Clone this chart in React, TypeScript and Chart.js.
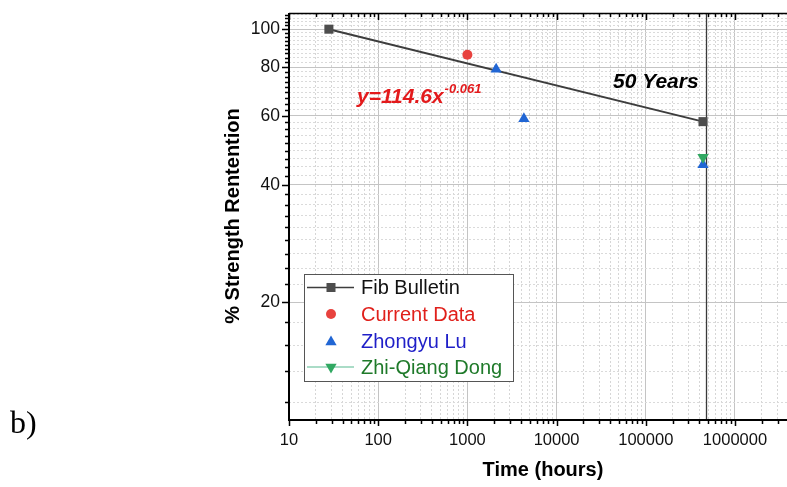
import React, { useEffect, useRef } from 'react';
import { Chart, registerables } from 'chart.js';

Chart.register(...registerables);

// ---- data ----
const FIB_X = [28, 438000];
const FIB_Y = [100, 58];
const CURRENT_X = [1000];
const CURRENT_Y = [86];
const LU_X = [2100, 4300, 438000];
const LU_Y = [79, 59, 45];
const DONG_X = [438000];
const DONG_Y = [47];

const SERIES_NAMES = ['Fib Bulletin', 'Current Data', 'Zhongyu Lu', 'Zhi-Qiang Dong'];

const X_MAJOR_TICKS = [10, 100, 1000, 10000, 100000, 1000000];
const X_TICK_LABELS = ['10', '100', '1000', '10000', '100000', '1000000'];
const Y_MAJOR_TICKS = [20, 40, 60, 80, 100];
const Y_TICK_LABELS = ['20', '40', '60', '80', '100'];
const X_RANGE = [10, 3830000];
const Y_RANGE = [10, 110];
const FIFTY_YEARS_LINE = [470000];

const X_TITLE = 'Time (hours)';
const Y_TITLE = '% Strength Rentention';
const EQUATION = ['y=114.6x', '-0.061'];
const ANNOTATION = '50 Years';

const SANS = "Arial, 'Liberation Sans', sans-serif";

function xTicks() {
  const out: { value: number; major: boolean }[] = [];
  for (let d = 1; d <= 6; d++) {
    for (let m = 1; m <= 9; m++) {
      const v = m * Math.pow(10, d);
      if (v >= X_RANGE[0] && v <= X_RANGE[1]) out.push({ value: v, major: m === 1 });
    }
  }
  return out;
}

function yTicks() {
  const out: { value: number; major: boolean }[] = [];
  for (let k = 1; k <= 50; k++) {
    const v = (k * 20) / 9;
    if (v >= Y_RANGE[0] && v <= Y_RANGE[1]) out.push({ value: v, major: k % 9 === 0 });
  }
  return out;
}

function pts(xs: number[], ys: number[]) {
  return xs.map((x, i) => ({ x, y: ys[i] }));
}

function triangle(ctx: CanvasRenderingContext2D, x: number, y: number, r: number, down: boolean) {
  const s = down ? -1 : 1;
  ctx.beginPath();
  ctx.moveTo(x, y - s * r);
  ctx.lineTo(x + r * 0.866, y + s * r / 2);
  ctx.lineTo(x - r * 0.866, y + s * r / 2);
  ctx.closePath();
  ctx.fill();
}

const decorPlugin = {
  id: 'decor',
  beforeDatasetsDraw(chart: any) {
    const { ctx, chartArea: ca } = chart;
    const xs = chart.scales.x;
    const px = Math.round(xs.getPixelForValue(FIFTY_YEARS_LINE[0])) + 0.5;
    ctx.save();
    ctx.strokeStyle = '#3a3a3a';
    ctx.lineWidth = 1.3;
    ctx.beginPath();
    ctx.moveTo(px, ca.top);
    ctx.lineTo(px, ca.bottom);
    ctx.stroke();
    ctx.restore();
  },
  afterDraw(chart: any) {
    const { ctx, chartArea: ca } = chart;
    const xs = chart.scales.x;
    const ys = chart.scales.y;
    ctx.save();

    // frame
    ctx.strokeStyle = '#000';
    ctx.lineWidth = 1.5;
    ctx.beginPath();
    ctx.moveTo(ca.left, ca.top + 0.5);
    ctx.lineTo(ca.right, ca.top + 0.5);
    ctx.stroke();
    ctx.lineWidth = 2;
    ctx.beginPath();
    ctx.moveTo(ca.left, ca.top);
    ctx.lineTo(ca.left, ca.bottom);
    ctx.lineTo(ca.right, ca.bottom);
    ctx.stroke();

    // ticks
    ctx.lineWidth = 1.5;
    ctx.beginPath();
    xs.ticks.forEach((t: any) => {
      const p = Math.round(xs.getPixelForValue(t.value)) + 0.5;
      ctx.moveTo(p, ca.bottom);
      ctx.lineTo(p, ca.bottom + (t.major ? 6 : 4));
      ctx.moveTo(p, ca.top);
      ctx.lineTo(p, ca.top + (t.major ? 7 : 4));
    });
    ys.ticks.forEach((t: any) => {
      const p = Math.round(ys.getPixelForValue(t.value)) + 0.5;
      ctx.moveTo(ca.left, p);
      ctx.lineTo(ca.left - (t.major ? 7 : 4), p);
    });
    ctx.stroke();

    // axis titles
    ctx.fillStyle = '#000';
    ctx.font = `bold 20px ${SANS}`;
    ctx.textAlign = 'center';
    ctx.textBaseline = 'middle';
    ctx.fillText(X_TITLE, 543, 470);
    ctx.save();
    ctx.translate(233, 216);
    ctx.rotate(-Math.PI / 2);
    ctx.fillText(Y_TITLE, 0, 0);
    ctx.restore();

    // equation
    ctx.textAlign = 'left';
    ctx.textBaseline = 'alphabetic';
    ctx.fillStyle = '#e31a1c';
    ctx.font = `italic bold 21px ${SANS}`;
    ctx.fillText(EQUATION[0], 357, 103);
    const w = ctx.measureText(EQUATION[0]).width;
    ctx.font = `italic bold 13px ${SANS}`;
    ctx.fillText(EQUATION[1], 357 + w + 1, 93);

    // annotation
    ctx.fillStyle = '#000';
    ctx.font = `italic bold 21px ${SANS}`;
    ctx.fillText(ANNOTATION, 613, 88);

    // legend
    const bx = 304.5, by = 274.5, bw = 209, bh = 107;
    ctx.fillStyle = '#fff';
    ctx.fillRect(bx, by, bw, bh);
    ctx.strokeStyle = '#555';
    ctx.lineWidth = 1;
    ctx.strokeRect(bx, by, bw, bh);
    const rows = [287.5, 314, 341, 367];
    const textColors = ['#111', '#e0201b', '#1f1fc8', '#1f7a2a'];
    const mx = 331;
    ctx.strokeStyle = '#3d3d3d';
    ctx.lineWidth = 1.6;
    ctx.beginPath();
    ctx.moveTo(307, rows[0]);
    ctx.lineTo(354, rows[0]);
    ctx.stroke();
    ctx.fillStyle = '#4d4d4d';
    ctx.fillRect(mx - 4.5, rows[0] - 4.5, 9, 9);
    ctx.fillStyle = '#e8423e';
    ctx.beginPath();
    ctx.arc(mx, rows[1], 5, 0, Math.PI * 2);
    ctx.fill();
    ctx.fillStyle = '#2166d4';
    triangle(ctx, mx, rows[2] + 1, 6.5, false);
    ctx.strokeStyle = '#8ed1b4';
    ctx.lineWidth = 1.4;
    ctx.beginPath();
    ctx.moveTo(307, rows[3]);
    ctx.lineTo(354, rows[3]);
    ctx.stroke();
    ctx.fillStyle = '#31a862';
    triangle(ctx, mx, rows[3], 6.5, true);

    ctx.font = `20px ${SANS}`;
    ctx.textBaseline = 'middle';
    SERIES_NAMES.forEach((n, i) => {
      ctx.fillStyle = textColors[i];
      ctx.fillText(n, 361, rows[i] + 1);
    });

    ctx.restore();
  },
};

export default function App() {
  const ref = useRef<HTMLCanvasElement | null>(null);

  useEffect(() => {
    if (!ref.current) return;
    const chart = new Chart(ref.current, {
      type: 'line',
      data: {
        datasets: [
          {
            label: SERIES_NAMES[0],
            data: pts(FIB_X, FIB_Y),
            borderColor: '#3d3d3d',
            borderWidth: 2,
            backgroundColor: '#4d4d4d',
            pointStyle: 'rect',
            pointRadius: 6.4,
            pointBorderWidth: 0,
            order: 4,
          },
          {
            label: SERIES_NAMES[1],
            data: pts(CURRENT_X, CURRENT_Y),
            showLine: false,
            backgroundColor: '#e8423e',
            borderColor: '#e8423e',
            pointStyle: 'circle',
            pointRadius: 5,
            pointBorderWidth: 0,
            order: 3,
          },
          {
            label: SERIES_NAMES[2],
            data: pts(LU_X, LU_Y),
            showLine: false,
            backgroundColor: '#2166d4',
            borderColor: '#2166d4',
            pointStyle: 'triangle',
            pointRadius: 6.5,
            pointBorderWidth: 0,
            order: 2,
          },
          {
            label: SERIES_NAMES[3],
            data: pts(DONG_X, DONG_Y),
            showLine: false,
            backgroundColor: '#31a862',
            borderColor: '#31a862',
            pointStyle: 'triangle',
            pointRotation: 180,
            pointRadius: 6.5,
            pointBorderWidth: 0,
            order: 1,
          },
        ],
      },
      options: {
        animation: false,
        responsive: false,
        devicePixelRatio: 1,
        layout: { autoPadding: false, padding: { top: 13, left: 0, right: 0, bottom: 0 } },
        plugins: {
          legend: { display: false },
          tooltip: { enabled: false },
        },
        scales: {
          x: {
            type: 'logarithmic',
            bounds: 'data',
            min: X_RANGE[0],
            max: X_RANGE[1],
            afterBuildTicks: (s: any) => {
              s.ticks = xTicks();
            },
            afterFit: (s: any) => {
              s.height = 67;
              s.paddingLeft = 0;
              s.paddingRight = 0;
              s.paddingTop = 0;
              s.paddingBottom = 0;
            },
            ticks: {
              autoSkip: false,
              maxRotation: 0,
              minRotation: 0,
              padding: 11,
              color: '#111',
              font: { family: SANS, size: 16.5 },
              callback: (v: any) => {
                const i = X_MAJOR_TICKS.indexOf(Number(v));
                return i >= 0 ? X_TICK_LABELS[i] : '';
              },
            },
            grid: {
              drawTicks: false,
              color: (c: any) => (c.tick && c.tick.major ? '#c4c4c4' : '#d6d6d6'),
              lineWidth: 1,
            },
            border: {
              display: false,
              dash: (c: any) => (c.tick && !c.tick.major ? [2, 2] : []),
            },
          },
          y: {
            type: 'logarithmic',
            bounds: 'data',
            min: Y_RANGE[0],
            max: Y_RANGE[1],
            afterBuildTicks: (s: any) => {
              s.ticks = yTicks();
            },
            afterFit: (s: any) => {
              s.width = 289;
              s.paddingLeft = 0;
              s.paddingRight = 0;
              s.paddingTop = 0;
              s.paddingBottom = 0;
            },
            ticks: {
              autoSkip: false,
              padding: 9,
              color: '#111',
              font: { family: SANS, size: 17.5 },
              callback: (v: any) => {
                const i = Y_MAJOR_TICKS.findIndex((m) => Math.abs(m - Number(v)) < 1e-6);
                return i >= 0 ? Y_TICK_LABELS[i] : '';
              },
            },
            grid: {
              drawTicks: false,
              color: (c: any) => (c.tick && c.tick.major ? '#c4c4c4' : '#dadada'),
              lineWidth: 1,
            },
            border: {
              display: false,
              dash: (c: any) => (c.tick && !c.tick.major ? [2, 2] : []),
            },
          },
        },
      } as any,
      plugins: [decorPlugin],
    });
    return () => chart.destroy();
  }, []);

  return (
    <div style={{ position: 'absolute', left: 0, top: 0, width: 787, height: 487, background: '#fff', overflow: 'hidden' }}>
      <canvas ref={ref} width={787} height={487} style={{ position: 'absolute', left: 0, top: 0, width: 787, height: 487 }} />
      <span
        style={{
          position: 'absolute',
          left: 10,
          top: 406,
          fontFamily: "'Times New Roman', 'Liberation Serif', serif",
          fontSize: 32,
          lineHeight: '32px',
          color: '#000',
        }}
      >
        b)
      </span>
    </div>
  );
}
